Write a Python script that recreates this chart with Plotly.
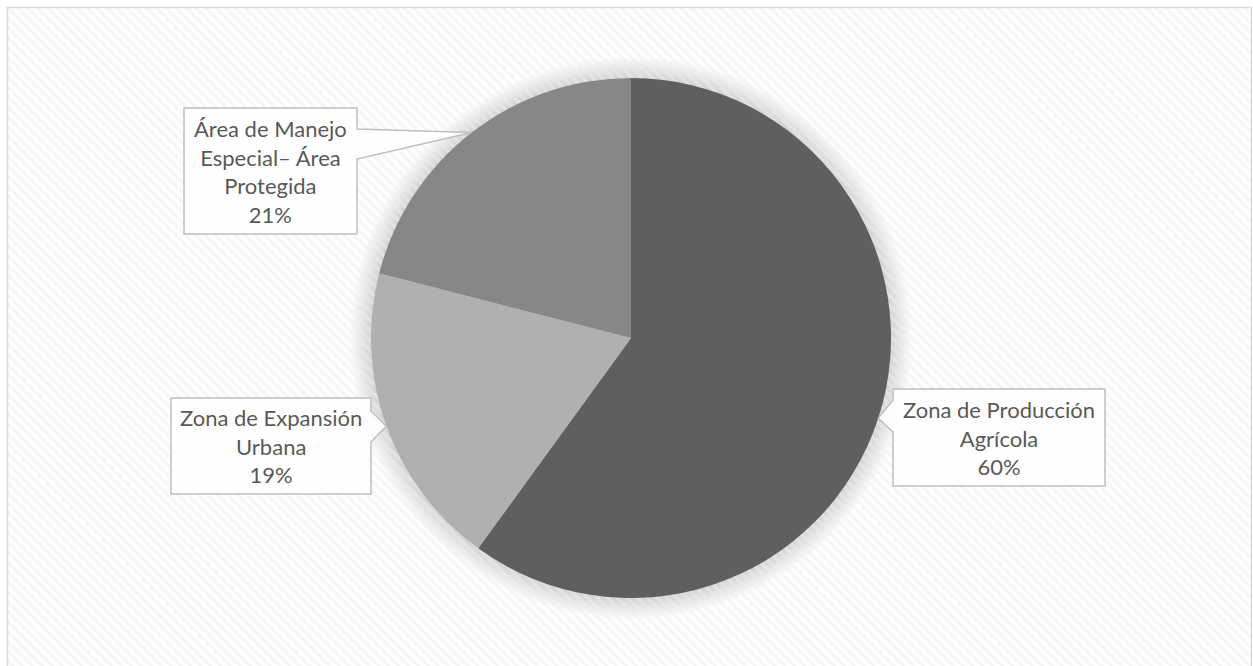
import math
import plotly.graph_objects as go

# ---- data ----
categories = ["Zona de Producción Agrícola", "Zona de Expansión Urbana",
              "Área de Manejo Especial– Área Protegida"]
label_lines = ["Zona de Producción<br>Agrícola", "Zona de Expansión<br>Urbana",
               "Área de Manejo<br>Especial– Área<br>Protegida"]
values = [60, 19, 21]
colors = ["#5f5f5f", "#b0b0b0", "#878787"]

W, H = 1253, 666
CX, CY, R = 631, 338, 260  # pie placement (pixels)

fig = go.Figure()

# hatched background
bx0, by0, bx1, by1 = 8, 8, 1252, 680
fig.add_trace(go.Scatter(
    x=[bx0, bx1, bx1, bx0, bx0], y=[by0, by0, by1, by1, by0],
    fill="toself", mode="none", hoverinfo="skip", showlegend=False,
    fillcolor="rgba(0,0,0,0)",
    fillpattern=dict(shape="\\", fgcolor="#eeeeee", bgcolor="rgba(0,0,0,0)",
                     size=7, solidity=0.45),
))

fig.add_trace(go.Pie(
    labels=categories, values=values, sort=False, direction="clockwise",
    rotation=0, textinfo="none", showlegend=False,
    marker=dict(colors=colors, line=dict(width=0)),
    domain=dict(x=[(CX - R) / W, (CX + R) / W], y=[(H - CY - R) / H, (H - CY + R) / H]),
))

shapes = []
# soft shadow around pie
for d in range(22, 0, -1):
    shapes.append(dict(type="circle", xref="x", yref="y", layer="below",
                       x0=CX - R - d, x1=CX + R + d, y0=CY - R - d, y1=CY + R + d,
                       fillcolor="rgba(0,0,0,0.009)", line=dict(width=0)))

# chart border
shapes.append(dict(type="rect", xref="x", yref="y", layer="above",
                   x0=7.5, y0=7.5, x1=1251.5, y1=700,
                   line=dict(color="#d9d9d9", width=1.5), fillcolor="rgba(0,0,0,0)"))

# callout boxes: (x0, y0, x1, y1, tail side, tail a, tail b)
boxes = [
    (893, 389, 1105, 486, "left", 400, 432),
    (171, 398, 371, 494, "right", 411, 442),
    (184, 108, 357, 234, "right", 129, 159),
]

total = sum(values)
annotations = []
cum = 0
for i, v in enumerate(values):
    mid = (cum + v / 2) / total * 2 * math.pi
    cum += v
    tx = CX + R * math.sin(mid)
    ty = CY - R * math.cos(mid)
    x0, y0, x1, y1, side, ta, tb = boxes[i]
    if side == "right":
        path = (f"M {x0},{y0} L {x1},{y0} L {x1},{ta} L {tx:.1f},{ty:.1f} "
                f"L {x1},{tb} L {x1},{y1} L {x0},{y1} Z")
    else:
        path = (f"M {x0},{y0} L {x1},{y0} L {x1},{y1} L {x0},{y1} L {x0},{tb} "
                f"L {tx:.1f},{ty:.1f} L {x0},{ta} Z")
    shapes.append(dict(type="path", xref="x", yref="y", layer="above", path=path,
                       fillcolor="rgba(255,255,255,0.85)",
                       line=dict(color="#bfbfbf", width=1.5)))
    pct = f"{v / total * 100:.0f}%"
    annotations.append(dict(
        x=(x0 + x1) / 2, y=(y0 + y1) / 2, xref="x", yref="y",
        text=f"{label_lines[i]}<br>{pct}", showarrow=False,
        font=dict(family="Lato", size=22, color="#595959"),
        align="center", xanchor="center", yanchor="middle"))

fig.update_layout(
    width=W, height=H, margin=dict(l=0, r=0, t=0, b=0),
    paper_bgcolor="white", plot_bgcolor="rgba(0,0,0,0)",
    xaxis=dict(range=[0, W], visible=False, fixedrange=True, domain=[0, 1]),
    yaxis=dict(range=[H, 0], visible=False, fixedrange=True, domain=[0, 1]),
    shapes=shapes, annotations=annotations, showlegend=False,
)

fig.write_html("out.html")
